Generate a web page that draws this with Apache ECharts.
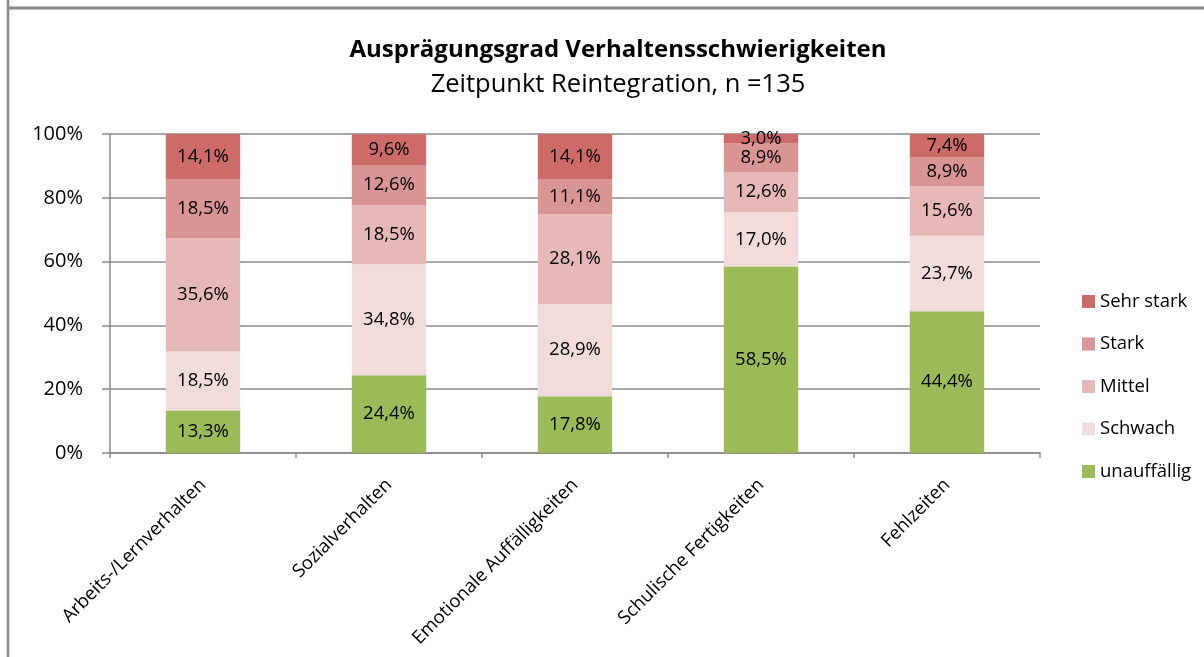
<!DOCTYPE html>
<html>
<head>
<meta charset="utf-8">
<script src="https://cdn.jsdelivr.net/npm/echarts@6/dist/echarts.min.js"></script>
<style>
html,body{margin:0;padding:0;background:#fff;}
#chart{width:1204px;height:657px;}
</style>
</head>
<body>
<div id="chart"></div>
<script>
var categories = ['Arbeits-/Lernverhalten', 'Sozialverhalten', 'Emotionale Auffälligkeiten', 'Schulische Fertigkeiten', 'Fehlzeiten'];
var seriesNames = ['unauffällig', 'Schwach', 'Mittel', 'Stark', 'Sehr stark'];
var unauffaellig = [13.3, 24.4, 17.8, 58.5, 44.4];
var schwach = [18.5, 34.8, 28.9, 17.0, 23.7];
var mittel = [35.6, 18.5, 28.1, 12.6, 15.6];
var stark = [18.5, 12.6, 11.1, 8.9, 8.9];
var sehrStark = [14.1, 9.6, 14.1, 3.0, 7.4];
var yTicks = [0, 20, 40, 60, 80, 100];

var FONT = 'Open Sans';
var colors = ['#9bbb59', '#f2dcdb', '#e6b9b8', '#d99594', '#cd6b69'];
var values = [unauffaellig, schwach, mittel, stark, sehrStark];

var chart = echarts.init(document.getElementById('chart'));
var series = seriesNames.map(function (name, i) {
  return {
    name: name,
    type: 'bar',
    stack: 'total',
    barWidth: '40%',
    data: values[i],
    itemStyle: { color: colors[i] },
    label: {
      show: true,
      position: 'inside',
      color: '#000',
      fontFamily: FONT,
      fontSize: 18.5,
      formatter: function (p) { return p.value.toFixed(1).replace('.', ',') + '%'; }
    }
  };
});

chart.setOption({
  animation: false,
  backgroundColor: '#fff',
  textStyle: { fontFamily: FONT },
  title: [
    { text: 'Ausprägungsgrad Verhaltensschwierigkeiten', left: 613, top: 33, textAlign: 'center',
      textStyle: { fontFamily: FONT, fontSize: 24, fontWeight: 'bold', color: '#000' } },
    { text: 'Zeitpunkt Reintegration, n =135', left: 613, top: 67, textAlign: 'center',
      textStyle: { fontFamily: FONT, fontSize: 25.5, fontWeight: 'normal', color: '#000' } }
  ],
  legend: {
    orient: 'vertical',
    left: 1077,
    top: 287,
    itemWidth: 13,
    itemHeight: 13,
    itemGap: 23.5,
    icon: 'rect',
    data: seriesNames.slice().reverse(),
    textStyle: { fontFamily: FONT, fontSize: 18.5, color: '#000' }
  },
  grid: { left: 110, top: 134, right: 164, bottom: 204, containLabel: false },
  xAxis: {
    type: 'category',
    data: categories,
    axisLine: { lineStyle: { color: '#8a8a8a', width: 1.5 } },
    axisTick: { show: true, alignWithLabel: false, length: 5, lineStyle: { color: '#8a8a8a', width: 1.5 } },
    axisLabel: { rotate: 45, color: '#000', fontFamily: FONT, fontSize: 18.5, margin: 29, interval: 0 }
  },
  yAxis: {
    type: 'value',
    min: yTicks[0],
    max: yTicks[yTicks.length - 1],
    interval: 20,
    axisLine: { show: true, lineStyle: { color: '#8a8a8a', width: 1.5 } },
    axisTick: { show: true, length: 8, lineStyle: { color: '#8a8a8a', width: 1.5 } },
    splitLine: { lineStyle: { color: '#8a8a8a', width: 1.5 } },
    axisLabel: { color: '#000', fontFamily: FONT, fontSize: 20, margin: 27, formatter: '{value}%' }
  },
  graphic: [
    { type: 'line', shape: { x1: 8, y1: 0, x2: 8, y2: 657 }, style: { stroke: '#888', lineWidth: 2.5 } },
    { type: 'line', shape: { x1: 7, y1: 8, x2: 1204, y2: 8 }, style: { stroke: '#888', lineWidth: 3 } }
  ],
  series: series
});
</script>
</body>
</html>
